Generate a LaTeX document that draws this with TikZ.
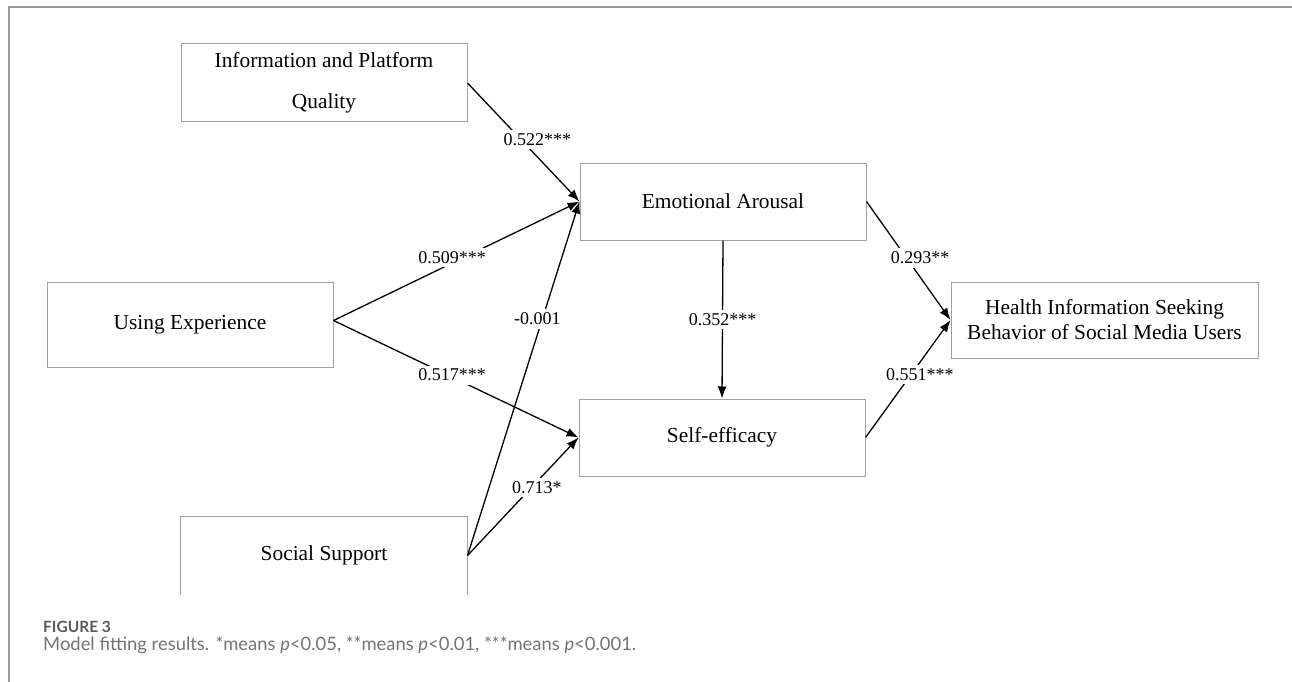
\documentclass[tikz,border=0pt]{standalone}
\usepackage{fontspec}
\setmainfont{Liberation Serif}
\newfontfamily\capfont{Lato}
\usetikzlibrary{arrows.meta}
\definecolor{boxgray}{HTML}{A0A0A0}
\definecolor{framegray}{HTML}{9A9A9A}
\definecolor{capgray}{HTML}{737477}
\definecolor{figgray}{HTML}{5A5B5D}
\begin{document}
\begin{tikzpicture}[x=1pt,y=1pt,
  box/.style={draw=boxgray, line width=1pt, minimum width=286pt, minimum height=77pt,
    inner sep=0pt, font=\fontsize{21.4}{25}\selectfont, align=center},
  arr/.style={-{Latex[length=12pt,width=9pt]}, line width=1.3pt},
  lbl/.style={fill=white, inner xsep=2pt, inner ysep=3.5pt, font=\fontsize{18}{20}\selectfont}]
\useasboundingbox (0,0) rectangle (1292,-682);
\fill[white] (0,0) rectangle (1292,-682);
% frame
\draw[framegray, line width=1.5pt] (9,-682) -- (9,-7) -- (1292,-7);
% nodes
\node[box, minimum height=78pt, font=\fontsize{21.4}{41}\selectfont] (ipq) at (324,-83) {Information and Platform\\Quality};
\node[box] (ea) at (723,-201.5) {Emotional Arousal};
\node[box, minimum height=85pt] (ue) at (190,-324.5) {Using Experience};
\node[box] (se) at (722,-437.5) {Self-efficacy};
\node[box, minimum width=307pt, minimum height=76pt] (hb) at (1104.5,-320) {Health Information Seeking\\Behavior of Social Media Users};
\node[box, draw=none] (ss) at (324,-555.5) {Social Support};
\draw[boxgray, line width=1pt] (ss.south west) -- (ss.north west) -- (ss.north east) -- (ss.south east);
% connectors
\draw[arr] (ipq.east) -- node[lbl, pos=0.48, xshift=16pt] {0.522***} (ea.west);
\draw[arr] ([yshift=4pt]ue.east) -- node[lbl, pos=0.482, yshift=6pt] {0.509***} (ea.west);
\draw[arr] ([yshift=4pt]ue.east) -- node[lbl, pos=0.484, yshift=2pt] {0.517***} (se.west);
\draw[arr] (ss.east) -- node[lbl, pos=0.668, xshift=-5pt] {-0.001} (ea.west);
\draw[arr] (ss.east) -- node[lbl, pos=0.625, yshift=-6pt] {0.713*} (se.west);
\draw[arr] (ea.south) -- node[lbl, pos=0.5] {0.352***} (se.north);
\draw[arr] (ea.east) -- node[lbl, pos=0.477, xshift=13.5pt] {0.293**} (hb.west);
\draw[arr] (se.east) -- node[lbl, pos=0.534, xshift=9pt] {0.551***} (hb.west);
% caption
\node[anchor=west, inner sep=0pt, text=figgray, font=\capfont\bfseries\fontsize{15.5}{18}\selectfont] (fig) at (43,-627) {FIGURE 3};
\node[anchor=west, inner sep=0pt, text=capgray, font=\capfont\fontsize{18.4}{22}\selectfont] (cap) at (43,-645) {Model fitting results. *means \textit{p}<0.05, **means \textit{p}<0.01, ***means \textit{p}<0.001.};
\end{tikzpicture}
\end{document}
